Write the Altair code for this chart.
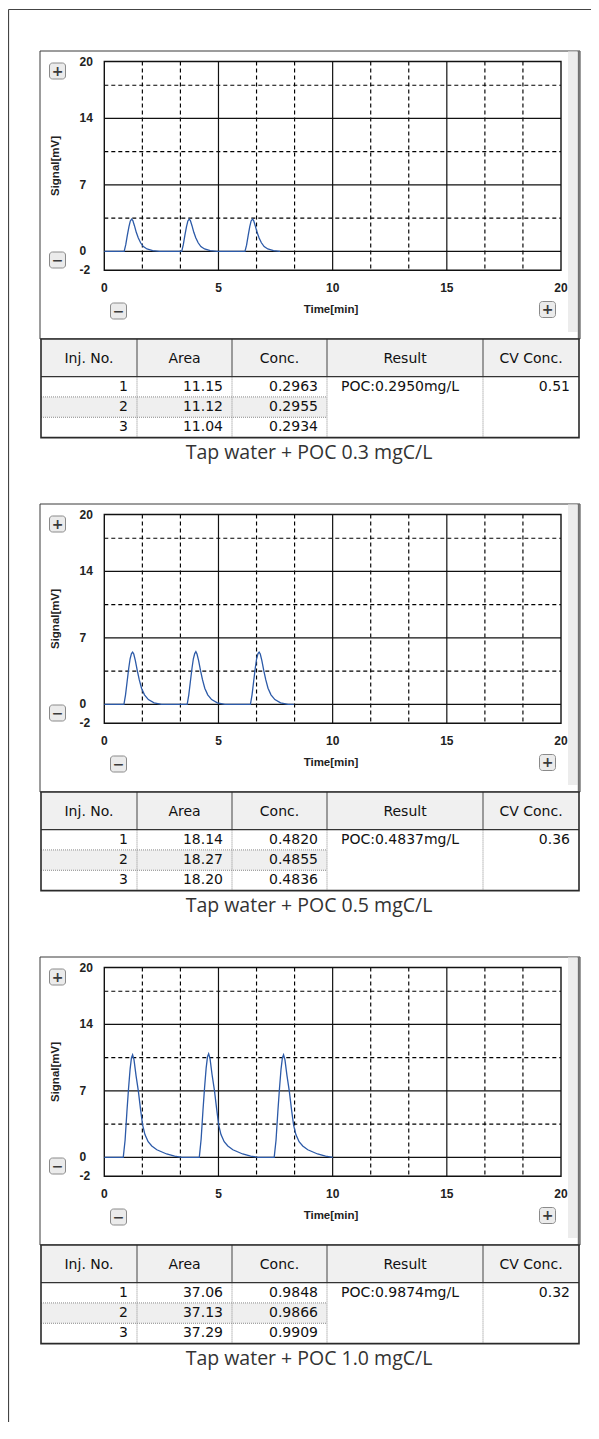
import altair as alt
import pandas as pd

# ---------------- data ----------------
captions = ["Tap water + POC 0.3 mgC/L", "Tap water + POC 0.5 mgC/L", "Tap water + POC 1.0 mgC/L"]

time_03 = [0.00, 0.87, 0.94, 1.01, 1.08, 1.14, 1.20, 1.25, 1.32, 1.40, 1.49, 1.59, 1.71, 1.87, 2.12, 2.41,
           3.39, 3.46, 3.53, 3.60, 3.66, 3.72, 3.77, 3.84, 3.92, 4.01, 4.11, 4.23, 4.39, 4.64, 4.93,
           6.16, 6.23, 6.30, 6.37, 6.43, 6.49, 6.54, 6.61, 6.69, 6.78, 6.88, 7.00, 7.16, 7.41, 7.70]
signal_03 = [0.00, 0.00, 0.70, 1.70, 2.60, 3.20, 3.40, 3.25, 2.70, 2.00, 1.40, 0.90, 0.50, 0.25, 0.08, 0.00,
             0.00, 0.70, 1.70, 2.60, 3.20, 3.40, 3.25, 2.70, 2.00, 1.40, 0.90, 0.50, 0.25, 0.08, 0.00,
             0.00, 0.65, 1.65, 2.60, 3.20, 3.40, 3.25, 2.70, 2.00, 1.40, 0.90, 0.50, 0.25, 0.08, 0.00]

time_05 = [0.00, 0.86, 0.93, 1.00, 1.07, 1.13, 1.19, 1.24, 1.29, 1.36, 1.44, 1.53, 1.63, 1.76, 1.93, 2.18, 2.51,
           3.63, 3.70, 3.77, 3.84, 3.90, 3.96, 4.01, 4.06, 4.13, 4.21, 4.30, 4.40, 4.53, 4.70, 4.95, 5.28,
           6.40, 6.47, 6.54, 6.61, 6.67, 6.73, 6.78, 6.83, 6.90, 6.98, 7.07, 7.17, 7.30, 7.47, 7.72, 8.05, 8.30]
signal_05 = [0.00, 0.00, 1.00, 2.40, 3.80, 4.80, 5.35, 5.50, 5.30, 4.60, 3.60, 2.60, 1.70, 1.00, 0.50, 0.15, 0.00,
             0.00, 1.00, 2.40, 3.80, 4.80, 5.35, 5.55, 5.30, 4.60, 3.60, 2.60, 1.70, 1.00, 0.50, 0.15, 0.00,
             0.00, 1.00, 2.40, 3.80, 4.80, 5.35, 5.50, 5.30, 4.60, 3.60, 2.60, 1.70, 1.00, 0.50, 0.15, 0.00, 0.00]

time_10 = [0.00, 0.83, 0.91, 0.99, 1.06, 1.13, 1.19, 1.24, 1.30, 1.39, 1.49, 1.59, 1.68, 1.78, 1.92, 2.08, 2.30, 2.73, 3.08, 3.40,
           4.16, 4.24, 4.32, 4.39, 4.46, 4.52, 4.57, 4.63, 4.72, 4.82, 4.92, 5.01, 5.11, 5.25, 5.41, 5.63, 6.06, 6.41, 6.73,
           7.44, 7.52, 7.60, 7.67, 7.74, 7.80, 7.85, 7.91, 8.00, 8.10, 8.20, 8.29, 8.39, 8.53, 8.69, 8.91, 9.34, 9.69, 10.01]
signal_10 = [0.00, 0.00, 1.80, 4.80, 7.20, 9.30, 10.50, 10.80, 10.30, 8.60, 7.00, 5.00, 3.40, 2.40, 1.65, 1.20, 0.80, 0.35, 0.12, 0.00,
             0.00, 1.90, 4.90, 7.30, 9.40, 10.60, 10.90, 10.40, 8.70, 7.10, 5.10, 3.40, 2.40, 1.65, 1.20, 0.80, 0.35, 0.12, 0.00,
             0.00, 1.80, 4.80, 7.20, 9.30, 10.50, 10.80, 10.30, 8.60, 7.00, 5.00, 3.40, 2.40, 1.65, 1.20, 0.80, 0.35, 0.12, 0.00]

table_header = ["Inj. No.", "Area", "Conc.", "Result", "CV Conc."]
inj_no = ["1", "2", "3"]
area_03 = ["11.15", "11.12", "11.04"]
conc_03 = ["0.2963", "0.2955", "0.2934"]
area_05 = ["18.14", "18.27", "18.20"]
conc_05 = ["0.4820", "0.4855", "0.4836"]
area_10 = ["37.06", "37.13", "37.29"]
conc_10 = ["0.9848", "0.9866", "0.9909"]
results = ["POC:0.2950mg/L", "POC:0.4837mg/L", "POC:0.9874mg/L"]
cv_conc = ["0.51", "0.36", "0.32"]

x_tick_values = [0, 5, 10, 15, 20]
y_tick_values = [-2, 0, 7, 14, 20]
x_major_grid = [5, 10, 15]
x_minor_grid = [1.667, 3.333, 6.667, 8.333, 11.667, 13.333, 16.667, 18.333]
y_major_grid = [0, 7, 14]
y_minor_grid = [3.5, 10.5, 17.5]
x_domain = [0, 20]
y_domain = [-2, 20]

# ---------------- layout (page pixels) ----------------
W, H = 583, 1414
STEP = 453
PLOT_L, PLOT_R, PLOT_T, PLOT_B = 104.3, 561.0, 61.5, 270.3
COL_EDGES = [41, 137, 232, 327, 483, 579]
HEAD_T, HEAD_B, TAB_B = 339.0, 376.6, 437.6
TXT = "DejaVu Sans"
AX = "Liberation Sans"


def X(v):
    return v - 8


def Y(v, k):
    return v - 8 + k * STEP


ONE = pd.DataFrame({"k": [0]})


def rect(x1, x2, y1, y2, **kw):
    return alt.Chart(ONE).mark_rect(**kw).encode(
        x=alt.value(x1), x2=alt.value(x2), y=alt.value(y1), y2=alt.value(y2))


def label(x, y, text, **kw):
    return alt.Chart(ONE).mark_text(text=text, **kw).encode(x=alt.value(x), y=alt.value(y))


def hline(x1, x2, y, **kw):
    return alt.Chart(ONE).mark_rule(**kw).encode(x=alt.value(x1), x2=alt.value(x2), y=alt.value(y))


def vline(x, y1, y2, **kw):
    return alt.Chart(ONE).mark_rule(**kw).encode(x=alt.value(x), y=alt.value(y1), y2=alt.value(y2))


def button(cx, cy, glyph):
    return [
        rect(cx - 8, cx + 8, cy - 8, cy + 8, fill="#ebebeb", stroke="#8a8a8a", strokeWidth=1, cornerRadius=3),
        label(cx, cy + 0.5, glyph, font=TXT, fontSize=14, fontWeight="bold", color="#3a3a3a",
              align="center", baseline="middle"),
    ]


def panel(k, t, s, area, conc, result, cv, caption):
    L = []
    top, bot = Y(PLOT_T, k), Y(PLOT_B, k)
    left, right = X(PLOT_L), X(PLOT_R)
    xs = alt.Scale(domain=x_domain, range=[left, right], nice=False, zero=False)
    ys = alt.Scale(domain=y_domain, range=[bot, top], nice=False, zero=False)

    # panel frame + side strip
    L.append(rect(X(40), X(580), Y(51, k), Y(HEAD_T, k), fill="white", stroke="#3a3a3a", strokeWidth=1))
    L.append(rect(X(568), X(577.5), Y(51.5, k), Y(332, k), fill="#ececec"))
    L.append(vline(X(578.8), Y(51, k), Y(HEAD_T, k), color="#707070", strokeWidth=2))

    # grid
    L.append(alt.Chart(pd.DataFrame({"t": x_minor_grid})).mark_rule(
        color="#000000", strokeDash=[4, 3], strokeWidth=1.15).encode(
        x=alt.X("t:Q", scale=xs, axis=None), y=alt.value(top), y2=alt.value(bot)))
    L.append(alt.Chart(pd.DataFrame({"s": y_minor_grid})).mark_rule(
        color="#000000", strokeDash=[4, 3], strokeWidth=1.15).encode(
        y=alt.Y("s:Q", scale=ys, axis=None), x=alt.value(left), x2=alt.value(right)))
    L.append(alt.Chart(pd.DataFrame({"t": x_major_grid})).mark_rule(
        color="#111111", strokeWidth=1.2).encode(
        x=alt.X("t:Q", scale=xs, axis=None), y=alt.value(top), y2=alt.value(bot)))
    L.append(alt.Chart(pd.DataFrame({"s": y_major_grid})).mark_rule(
        color="#111111", strokeWidth=1.2).encode(
        y=alt.Y("s:Q", scale=ys, axis=None), x=alt.value(left), x2=alt.value(right)))
    L.append(alt.Chart(pd.DataFrame({"x0": [x_domain[0]], "x1": [x_domain[1]],
                                     "y0": [y_domain[0]], "y1": [y_domain[1]]})).mark_rect(
        fillOpacity=0, stroke="#111111", strokeWidth=1.4).encode(
        x=alt.X("x0:Q", scale=xs, axis=None), x2="x1:Q",
        y=alt.Y("y0:Q", scale=ys, axis=None), y2="y1:Q"))

    # signal
    L.append(alt.Chart(pd.DataFrame({"t": t, "s": s})).mark_line(
        color="#2c5aa8", strokeWidth=1.3).encode(
        x=alt.X("t:Q", scale=xs, axis=None), y=alt.Y("s:Q", scale=ys, axis=None)))

    # tick labels
    L.append(alt.Chart(pd.DataFrame({"v": y_tick_values, "lab": [str(v) for v in y_tick_values]})).mark_text(
        font=AX, fontSize=12, fontWeight="bold", color="#222", align="left", baseline="middle").encode(
        x=alt.value(X(79.5)), y=alt.Y("v:Q", scale=ys, axis=None), text="lab:N"))
    L.append(alt.Chart(pd.DataFrame({"v": x_tick_values, "lab": [str(v) for v in x_tick_values]})).mark_text(
        font=AX, fontSize=12, fontWeight="bold", color="#222", align="center", baseline="middle").encode(
        x=alt.X("v:Q", scale=xs, axis=None), y=alt.value(Y(288, k)), text="lab:N"))

    # axis titles
    L.append(label(X(56), Y(166, k), "Signal[mV]", font=AX, fontSize=11.5, fontWeight="bold", color="#222",
                   angle=270, align="center", baseline="middle"))
    L.append(label(X(331), Y(310, k), "Time[min]", font=AX, fontSize=11.5, fontWeight="bold", color="#222",
                   align="center", baseline="middle"))

    # zoom buttons
    L += button(X(57.5), Y(71, k), "+")
    L += button(X(57.5), Y(260, k), "\u2212")
    L += button(X(118.5), Y(311, k), "\u2212")
    L += button(X(547.5), Y(309.5, k), "+")

    # ---------- table ----------
    cs = alt.Scale(domain=[0, 1, 2, 3, 4, 5], range=[X(c) for c in COL_EDGES], nice=False, zero=False)
    rs = alt.Scale(domain=[0, 3], range=[Y(HEAD_B, k), Y(TAB_B, k)], nice=False, zero=False)

    L.append(rect(X(COL_EDGES[0]), X(COL_EDGES[-1]), Y(HEAD_T, k), Y(HEAD_B, k), fill="#f0f0f0"))
    L.append(rect(X(COL_EDGES[0]), X(COL_EDGES[-1]), Y(HEAD_B, k), Y(TAB_B, k), fill="white"))
    L.append(alt.Chart(pd.DataFrame({"c0": [0], "c1": [3], "r0": [1], "r1": [2]})).mark_rect(
        fill="#efefef").encode(
        x=alt.X("c0:Q", scale=cs, axis=None), x2="c1:Q",
        y=alt.Y("r0:Q", scale=rs, axis=None), y2="r1:Q"))
    # dotted body lines
    L.append(alt.Chart(pd.DataFrame({"c": [1, 2, 3, 4]})).mark_rule(
        color="#8a8a8a", strokeDash=[1, 1], strokeWidth=1).encode(
        x=alt.X("c:Q", scale=cs, axis=None), y=alt.value(Y(HEAD_B, k)), y2=alt.value(Y(TAB_B, k))))
    L.append(alt.Chart(pd.DataFrame({"r": [1, 2], "c0": [0, 0], "c1": [3, 3]})).mark_rule(
        color="#8a8a8a", strokeDash=[1, 1], strokeWidth=1).encode(
        y=alt.Y("r:Q", scale=rs, axis=None),
        x=alt.X("c0:Q", scale=cs, axis=None), x2="c1:Q"))
    # header separators
    L.append(alt.Chart(pd.DataFrame({"c": [1, 2, 3, 4]})).mark_rule(
        color="#444", strokeWidth=1).encode(
        x=alt.X("c:Q", scale=cs, axis=None), y=alt.value(Y(HEAD_T, k)), y2=alt.value(Y(HEAD_B, k))))
    L.append(hline(X(COL_EDGES[0]), X(COL_EDGES[-1]), Y(HEAD_B, k), color="#333", strokeWidth=1.3))
    L.append(rect(X(COL_EDGES[0]), X(COL_EDGES[-1]), Y(HEAD_T, k), Y(TAB_B, k),
                  fillOpacity=0, stroke="#2a2a2a", strokeWidth=1.6))

    # header text
    L.append(alt.Chart(pd.DataFrame({"c": [0.5, 1.5, 2.5, 3.5, 4.5], "h": table_header})).mark_text(
        font=TXT, fontSize=14, color="#111", align="center", baseline="middle").encode(
        x=alt.X("c:Q", scale=cs, axis=None), y=alt.value(Y(358.5, k)), text="h:N"))
    # body text
    rows = []
    for r in range(3):
        rows.append({"c": 1, "r": r + 0.5, "v": inj_no[r]})
        rows.append({"c": 2, "r": r + 0.5, "v": area[r]})
        rows.append({"c": 3, "r": r + 0.5, "v": conc[r]})
    rows.append({"c": 5, "r": 0.5, "v": cv})
    L.append(alt.Chart(pd.DataFrame(rows)).mark_text(
        font=TXT, fontSize=14, color="#111", align="right", baseline="middle", dx=-9).encode(
        x=alt.X("c:Q", scale=cs, axis=None), y=alt.Y("r:Q", scale=rs, axis=None), text="v:N"))
    L.append(alt.Chart(pd.DataFrame({"c": [3], "r": [0.5], "v": [result]})).mark_text(
        font=TXT, fontSize=14, color="#111", align="left", baseline="middle", dx=14).encode(
        x=alt.X("c:Q", scale=cs, axis=None), y=alt.Y("r:Q", scale=rs, axis=None), text="v:N"))

    # caption
    L.append(label(X(309), Y(459, k), caption, font="Open Sans", fontSize=19.5, color="#333",
                   align="center", baseline="alphabetic"))
    return L


layers = []
# outer frame (top and left edges)
layers.append(hline(0.5, W, 1.5, color="#444", strokeWidth=1.2))
layers.append(vline(0.5, 1.5, H, color="#444", strokeWidth=1.2))

panels = [
    (time_03, signal_03, area_03, conc_03),
    (time_05, signal_05, area_05, conc_05),
    (time_10, signal_10, area_10, conc_10),
]
for k, (t, s, a, c) in enumerate(panels):
    layers += panel(k, t, s, a, c, results[k], cv_conc[k], captions[k])

chart = alt.layer(*layers).resolve_scale(
    x="independent", y="independent"
).properties(
    width=W, height=H, padding=0, autosize=alt.AutoSizeParams(type="none")
).configure_view(stroke="transparent")

chart.save("out.html", embed_options={"renderer": "svg", "actions": False})
